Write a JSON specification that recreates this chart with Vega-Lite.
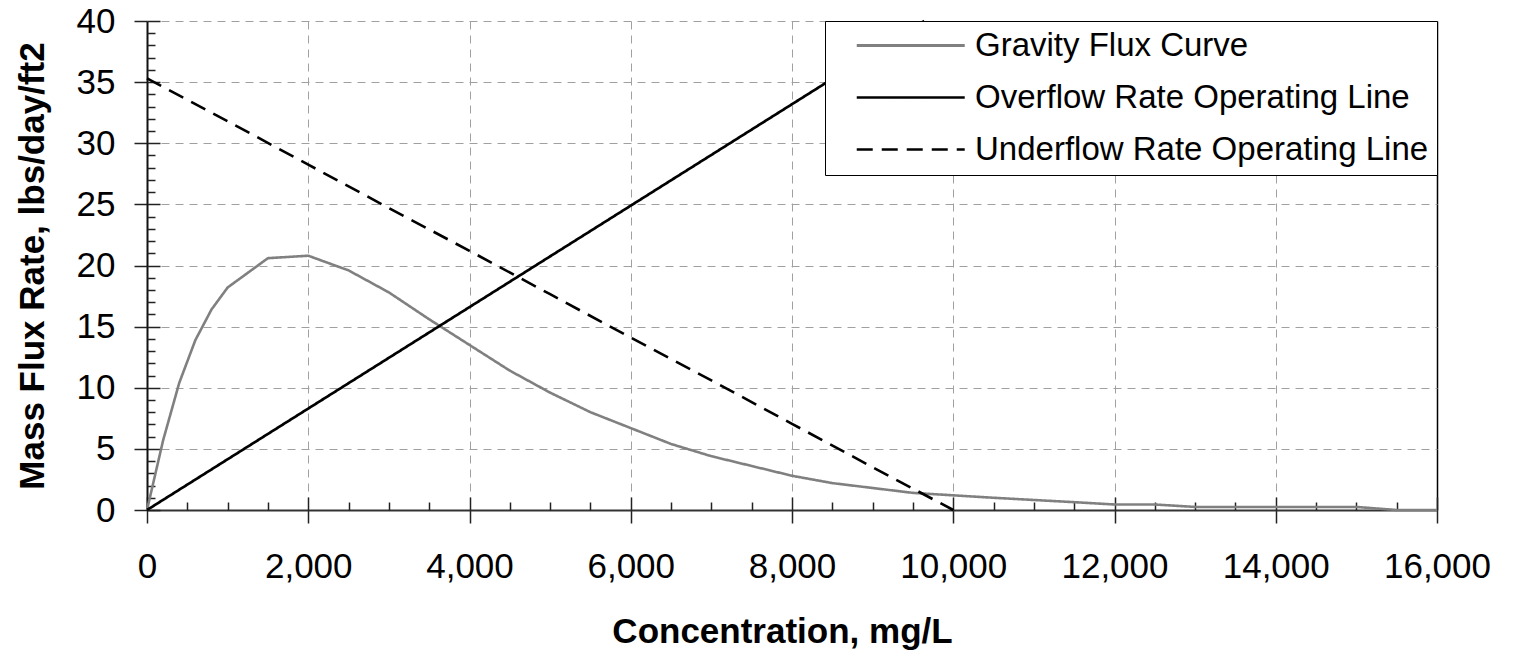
{
  "$schema": "https://vega.github.io/schema/vega-lite/v6.json",
  "width": 1290,
  "height": 489,
  "autosize": {"type": "none"},
  "padding": {"left": 147, "top": 21, "right": 79, "bottom": 140},
  "background": "white",
  "config": {"view": {"stroke": null}, "font": "Liberation Sans"},
  "data": {
    "values": [
      {"series": "Gravity Flux Curve", "c": 0, "f": 0},
      {"series": "Gravity Flux Curve", "c": 200, "f": 5.7},
      {"series": "Gravity Flux Curve", "c": 400, "f": 10.4},
      {"series": "Gravity Flux Curve", "c": 600, "f": 13.9},
      {"series": "Gravity Flux Curve", "c": 800, "f": 16.4},
      {"series": "Gravity Flux Curve", "c": 1000, "f": 18.2},
      {"series": "Gravity Flux Curve", "c": 1500, "f": 20.6},
      {"series": "Gravity Flux Curve", "c": 2000, "f": 20.8},
      {"series": "Gravity Flux Curve", "c": 2500, "f": 19.6},
      {"series": "Gravity Flux Curve", "c": 3000, "f": 17.8},
      {"series": "Gravity Flux Curve", "c": 3500, "f": 15.6},
      {"series": "Gravity Flux Curve", "c": 4000, "f": 13.5},
      {"series": "Gravity Flux Curve", "c": 4500, "f": 11.4},
      {"series": "Gravity Flux Curve", "c": 5000, "f": 9.6},
      {"series": "Gravity Flux Curve", "c": 5500, "f": 8.0},
      {"series": "Gravity Flux Curve", "c": 6000, "f": 6.7},
      {"series": "Gravity Flux Curve", "c": 6500, "f": 5.4},
      {"series": "Gravity Flux Curve", "c": 7000, "f": 4.4},
      {"series": "Gravity Flux Curve", "c": 7500, "f": 3.6},
      {"series": "Gravity Flux Curve", "c": 8000, "f": 2.8},
      {"series": "Gravity Flux Curve", "c": 8500, "f": 2.2},
      {"series": "Gravity Flux Curve", "c": 9000, "f": 1.8},
      {"series": "Gravity Flux Curve", "c": 9500, "f": 1.4},
      {"series": "Gravity Flux Curve", "c": 10000, "f": 1.2},
      {"series": "Gravity Flux Curve", "c": 10500, "f": 1.0},
      {"series": "Gravity Flux Curve", "c": 11000, "f": 0.82},
      {"series": "Gravity Flux Curve", "c": 11500, "f": 0.64},
      {"series": "Gravity Flux Curve", "c": 12000, "f": 0.45},
      {"series": "Gravity Flux Curve", "c": 12500, "f": 0.45},
      {"series": "Gravity Flux Curve", "c": 13000, "f": 0.25},
      {"series": "Gravity Flux Curve", "c": 13500, "f": 0.25},
      {"series": "Gravity Flux Curve", "c": 14000, "f": 0.25},
      {"series": "Gravity Flux Curve", "c": 14500, "f": 0.25},
      {"series": "Gravity Flux Curve", "c": 15000, "f": 0.25},
      {"series": "Gravity Flux Curve", "c": 15500, "f": 0},
      {"series": "Gravity Flux Curve", "c": 16000, "f": 0},
      {"series": "Overflow Rate Operating Line", "c": 0, "f": 0},
      {"series": "Overflow Rate Operating Line", "c": 9640, "f": 40},
      {"series": "Underflow Rate Operating Line", "c": 0, "f": 35.3},
      {"series": "Underflow Rate Operating Line", "c": 1000, "f": 31.8},
      {"series": "Underflow Rate Operating Line", "c": 2000, "f": 28.25},
      {"series": "Underflow Rate Operating Line", "c": 3000, "f": 24.7},
      {"series": "Underflow Rate Operating Line", "c": 4000, "f": 21.2},
      {"series": "Underflow Rate Operating Line", "c": 5000, "f": 17.65},
      {"series": "Underflow Rate Operating Line", "c": 6000, "f": 14.1},
      {"series": "Underflow Rate Operating Line", "c": 7000, "f": 10.6},
      {"series": "Underflow Rate Operating Line", "c": 8000, "f": 7.05},
      {"series": "Underflow Rate Operating Line", "c": 9000, "f": 3.5},
      {"series": "Underflow Rate Operating Line", "c": 10000, "f": 0}
    ]
  },
  "layer": [
    {
      "transform": [{"filter": "datum.series === 'Gravity Flux Curve'"}],
      "mark": {"type": "line", "strokeWidth": 2.6},
      "encoding": {
        "x": {
          "field": "c", "type": "quantitative",
          "scale": {"domain": [0, 16000], "nice": false, "zero": false},
          "axis": {
            "orient": "bottom",
            "values": [0, 2000, 4000, 6000, 8000, 10000, 12000, 14000, 16000],
            "format": ",.0f",
            "title": "Concentration, mg/L",
            "titleFont": "Liberation Sans", "titleFontSize": 35, "titleFontWeight": "bold", "titleColor": "black",
            "titleBaseline": "alphabetic", "titleY": 132, "titleX": 635,
            "labelFont": "Liberation Sans", "labelFontSize": 35, "labelColor": "black",
            "labelPadding": 26, "labelFlush": false, "labelOverlap": false,
            "ticks": true, "tickSize": 13, "tickColor": "#222222", "tickWidth": 1.5,
            "domainColor": "#333333", "domainWidth": 2,
            "grid": true,
            "gridColor": {"condition": {"test": "datum.value === 16000", "value": "#000000"}, "value": "#a0a0a0"},
            "gridDash": {"condition": {"test": "datum.value === 16000", "value": []}, "value": [8, 6]},
            "gridWidth": {"condition": {"test": "datum.value === 16000", "value": 1.5}, "value": 1}
          }
        },
        "y": {
          "field": "f", "type": "quantitative",
          "scale": {"domain": [0, 40], "nice": false},
          "axis": {
            "orient": "left",
            "values": [0, 5, 10, 15, 20, 25, 30, 35, 40],
            "title": "Mass Flux Rate, lbs/day/ft2",
            "titleFont": "Liberation Sans", "titleFontSize": 35, "titleFontWeight": "bold", "titleColor": "black",
            "titleAngle": -90, "titleBaseline": "alphabetic", "titleAlign": "center", "titleX": -104, "titleY": 244.5,
            "labelFont": "Liberation Sans", "labelFontSize": 35, "labelColor": "black",
            "labelPadding": 19, "labelFlush": false, "labelOverlap": false,
            "ticks": true, "tickSize": 13, "tickColor": "#222222", "tickWidth": 1.5,
            "domainColor": "#111111", "domainWidth": 2,
            "grid": true, "gridColor": "#a0a0a0", "gridDash": [8, 6], "gridWidth": 1
          }
        },
        "color": {
          "field": "series", "type": "nominal",
          "scale": {"domain": ["Gravity Flux Curve", "Overflow Rate Operating Line", "Underflow Rate Operating Line"], "range": ["#808080", "#000000", "#000000"]},
          "legend": {
            "orient": "top-right", "offset": 0, "title": null,
            "fillColor": "white", "strokeColor": "#000000", "padding": 8,
            "labelFont": "Liberation Sans", "labelFontSize": 33, "labelColor": "black", "labelLimit": 0,
            "symbolType": "M0.527,0H8.382", "symbolSize": 756, "symbolStrokeWidth": 2.6,
            "labelOffset": 109, "rowPadding": 18
          }
        },
        "strokeDash": {
          "field": "series", "type": "nominal",
          "scale": {"domain": ["Gravity Flux Curve", "Overflow Rate Operating Line", "Underflow Rate Operating Line"], "range": [[1, 0], [1, 0], [16, 9]]},
          "legend": {
            "orient": "top-right", "offset": 0, "title": null,
            "fillColor": "white", "strokeColor": "#000000", "padding": 8,
            "labelFont": "Liberation Sans", "labelFontSize": 33, "labelColor": "black", "labelLimit": 0,
            "symbolType": "M0.527,0H8.382", "symbolSize": 756, "symbolStrokeWidth": 2.6,
            "labelOffset": 109, "rowPadding": 18
          }
        },
        "strokeWidth": {
          "field": "series", "type": "nominal",
          "scale": {"domain": ["Gravity Flux Curve", "Overflow Rate Operating Line", "Underflow Rate Operating Line"], "range": [2.8, 2.6, 3.2]},
          "legend": null
        }
      }
    },
    {
      "transform": [{"filter": "datum.series !== 'Gravity Flux Curve'"}],
      "mark": {"type": "line"},
      "encoding": {
        "x": {
          "field": "c", "type": "quantitative",
          "axis": {
            "orient": "bottom", "title": null, "labels": false, "domain": false, "grid": false, "ticks": true,
            "values": [0, 500, 1000, 1500, 2000, 2500, 3000, 3500, 4000, 4500, 5000, 5500, 6000, 6500, 7000, 7500, 8000, 8500, 9000, 9500, 10000, 10500, 11000, 11500, 12000, 12500, 13000, 13500, 14000, 14500, 15000, 15500, 16000],
            "tickColor": "#222222", "tickWidth": 1.5,
            "tickSize": {"condition": {"test": "datum.value % 2000 === 0", "value": -13}, "value": -8}
          }
        },
        "y": {
          "field": "f", "type": "quantitative",
          "axis": {
            "orient": "left", "title": null, "labels": false, "domain": false, "grid": false, "ticks": true,
            "values": [0, 1, 2, 3, 4, 5, 6, 7, 8, 9, 10, 11, 12, 13, 14, 15, 16, 17, 18, 19, 20, 21, 22, 23, 24, 25, 26, 27, 28, 29, 30, 31, 32, 33, 34, 35, 36, 37, 38, 39, 40],
            "tickColor": "#222222", "tickWidth": 1.5,
            "tickSize": {"condition": {"test": "datum.value % 5 === 0", "value": -13}, "value": -8}
          }
        },
        "color": {"field": "series", "type": "nominal"},
        "strokeDash": {"field": "series", "type": "nominal"},
        "strokeWidth": {"field": "series", "type": "nominal", "legend": null}
      }
    }
  ],
  "resolve": {"axis": {"x": "independent", "y": "independent"}}
}
